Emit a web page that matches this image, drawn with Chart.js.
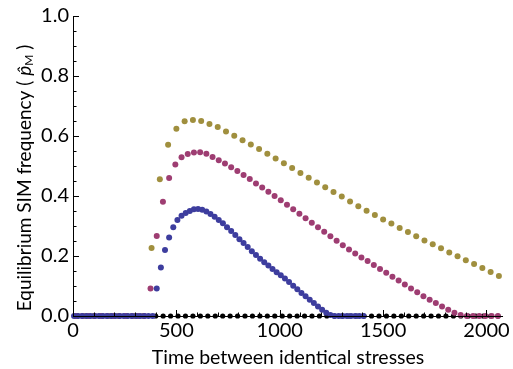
<!DOCTYPE html>
<html><head><meta charset="utf-8">
<script src="https://cdn.jsdelivr.net/npm/chart.js@4"></script>
<style>html,body{margin:0;padding:0;background:#fff}#wrap{width:513px;height:369px}</style>
</head><body><div id="wrap"><canvas id="c" width="513" height="369"></canvas></div>
<script>
// ---- data ----
const blueX = [5,25,45,65,85,105,125,145,165,185,205,225,245,265,285,305,325,345,365,385,
  405,425,445,465,485,505,525,545,565,585,605,625,645,665,685,705,725,745,765,785,805,825,845,865,885,905,925,945,965,985,
  1005,1025,1045,1065,1085,1105,1125,1145,1165,1185,1205,1225,1245,1265,1285,1305,1325,1345,1365,1385,1405];
const blueY = [0,0,0,0,0,0,0,0,0,0,0,0,0,0,0,0,0,0,0,0,
  0.092,0.162,0.220,0.262,0.296,0.320,0.334,0.343,0.350,0.356,0.357,0.354,0.348,0.340,0.331,0.320,0.309,0.296,0.283,0.270,0.256,0.243,0.230,0.216,0.203,0.191,0.179,0.168,0.157,0.146,
  0.136,0.125,0.113,0.101,0.089,0.077,0.066,0.054,0.043,0.032,0.021,0.011,0.003,0,0,0,0,0,0,0,0];

const magentaX = [15,45,75,105,135,165,195,225,255,285,315,345,
  375,405,435,465,495,525,555,585,615,645,675,705,735,765,795,825,855,885,915,945,975,
  1005,1035,1065,1095,1125,1155,1185,1215,1245,1275,1305,1335,1365,1395,1425,1455,1485,1515,1545,1575,1605,1635,1665,1695,1725,1755,1785,1815,1845,1875,1905,1935,1965,1995,2025,2055];
const magentaY = [0,0,0,0,0,0,0,0,0,0,0,0,
  0.092,0.267,0.381,0.460,0.505,0.529,0.540,0.545,0.546,0.541,0.530,0.519,0.508,0.496,0.483,0.470,0.457,0.442,0.428,0.414,0.400,
  0.386,0.371,0.356,0.341,0.326,0.311,0.296,0.281,0.266,0.251,0.236,0.222,0.208,0.195,0.183,0.170,0.157,0.144,0.131,0.118,0.105,0.092,0.079,0.066,0.054,0.043,0.032,0.021,0.011,0.003,0,0,0,0,0,0];

const yellowX = [20,60,100,140,180,220,260,300,340,
  380,420,460,500,540,580,620,660,700,740,780,820,860,900,940,980,
  1020,1060,1100,1140,1180,1220,1260,1300,1340,1380,1420,1460,1500,1540,1580,1620,1660,1700,1740,1780,1820,1860,1900,1940,1980,2020,2060];
const yellowY = [0,0,0,0,0,0,0,0,0,
  0.227,0.456,0.571,0.624,0.649,0.653,0.650,0.640,0.630,0.615,0.601,0.586,0.572,0.557,0.541,0.525,
  0.509,0.493,0.477,0.461,0.445,0.429,0.413,0.398,0.382,0.366,0.351,0.337,0.322,0.308,0.293,0.280,0.266,0.252,0.239,0.226,0.212,0.199,0.186,0.173,0.160,0.147,0.133];

const blackX = [400,436,472,508,544,580,616,652,688,724,760,796,832,868,904,940,976,1012,1048,1084,1120,1156,1192,1228,1264,1300,1336,1372,1408,1444,1480,1516,1552,1588,1624,1660,1696,1732,1768,1804,1840,1876,1912,1948,1984,2020,2056];
const blackY = [0,0,0,0,0,0,0,0,0,0,0,0,0,0,0,0,0,0,0,0,0,0,0,0,0,0,0,0,0,0,0,0,0,0,0,0,0,0,0,0,0,0,0,0,0,0,0];

const xTicks = [0,500,1000,1500,2000];
const xMinor = [100,200,300,400,600,700,800,900,1100,1200,1300,1400,1600,1700,1800,1900];
const yTicks = [0,0.2,0.4,0.6,0.8,1.0];
const yMinor = [0.05,0.1,0.15,0.25,0.3,0.35,0.45,0.5,0.55,0.65,0.7,0.75,0.85,0.9,0.95];
const xTitle = 'Time between identical stresses';
const yTitleMain = 'Equilibrium SIM frequency (';
const yTitleSym = 'p\u0302';
const yTitleSub = 'M';
const yTitleEnd = ')';

const FONT = 'Lato, "Open Sans", sans-serif';
const cBlue = 'rgb(61,61,158)', cMag = 'rgb(158,61,114)', cYel = 'rgb(160,143,62)';

function pts(xs, ys){ return xs.map((x,i)=>({x:x, y:ys[i]})); }

const axesPlugin = {
  id: 'axes',
  afterDatasetsDraw(chart){
    const ctx = chart.ctx, xs = chart.scales.x, ys = chart.scales.y;
    const L = xs.getPixelForValue(0), B = ys.getPixelForValue(0);
    const R = xs.right, T = ys.getPixelForValue(1);
    ctx.save();
    ctx.strokeStyle = '#000'; ctx.lineWidth = 1;
    ctx.beginPath();
    ctx.moveTo(Math.round(L)+0.5, T); ctx.lineTo(Math.round(L)+0.5, B+0.5);
    ctx.moveTo(L, Math.round(B)+0.5); ctx.lineTo(R, Math.round(B)+0.5);
    yTicks.forEach(v=>{ const p=Math.round(ys.getPixelForValue(v))+0.5; ctx.moveTo(L,p); ctx.lineTo(L+6,p); });
    yMinor.forEach(v=>{ const p=Math.round(ys.getPixelForValue(v))+0.5; ctx.moveTo(L,p); ctx.lineTo(L+3.5,p); });
    xTicks.forEach(v=>{ const p=Math.round(xs.getPixelForValue(v))+0.5; ctx.moveTo(p,B); ctx.lineTo(p,B-6); });
    xMinor.forEach(v=>{ const p=Math.round(xs.getPixelForValue(v))+0.5; ctx.moveTo(p,B); ctx.lineTo(p,B-3.5); });
    ctx.stroke();
    ctx.restore();
  },
  afterDraw(chart){
    const ctx = chart.ctx, ys = chart.scales.y;
    const cy = (ys.getPixelForValue(0)+ys.getPixelForValue(1))/2 + 12;
    ctx.save();
    ctx.translate(25, cy);
    ctx.rotate(-Math.PI/2);
    ctx.fillStyle = '#000';
    ctx.textBaseline = 'middle';
    const f1 = '19px ' + FONT, f2 = 'italic 19px ' + FONT, f3 = '12px ' + FONT;
    ctx.font = f1; const w1 = ctx.measureText(yTitleMain + ' ').width; const w4 = ctx.measureText(' ' + yTitleEnd).width;
    ctx.font = f2; const w2 = ctx.measureText(yTitleSym).width;
    ctx.font = f3; const w3 = ctx.measureText(yTitleSub).width;
    let x = -(w1+w2+w3+w4)/2;
    ctx.font = f1; ctx.textAlign='left'; ctx.fillText(yTitleMain + ' ', x, 0); x += w1;
    ctx.font = f2; ctx.fillText(yTitleSym, x, 0); x += w2;
    ctx.font = f3; ctx.fillText(yTitleSub, x, 4); x += w3;
    ctx.font = f1; ctx.fillText(' ' + yTitleEnd, x, 0);
    ctx.restore();
  }
};

new Chart(document.getElementById('c'), {
  type: 'scatter',
  data: { datasets: [
    { label:'blue', data: pts(blueX, blueY), backgroundColor: cBlue, pointRadius: 3, borderWidth: 0, order: 1, clip: false },
    { label:'magenta', data: pts(magentaX, magentaY), backgroundColor: cMag, pointRadius: 3, borderWidth: 0, order: 2, clip: false },
    { label:'yellow', data: pts(yellowX, yellowY), backgroundColor: cYel, pointRadius: 3, borderWidth: 0, order: 3, clip: false },
    { label:'black', data: pts(blackX, blackY), backgroundColor: '#000', pointRadius: 2.6, borderWidth: 0, order: 4, clip: false }
  ]},
  options: {
    responsive: false, animation: false, devicePixelRatio: 1,
    layout: { padding: { top: 16, right: 8, left: 0, bottom: 0 } },
    plugins: { legend: { display: false }, tooltip: { enabled: false } },
    elements: { point: { hoverRadius: 0 } },
    scales: {
      x: { type: 'linear', min: 0, max: 2080,
        afterBuildTicks: s => { s.ticks = xTicks.map(v=>({value:v})); },
        afterFit: s => { s.height = 53; },
        grid: { display: false, drawTicks: false }, border: { display: false },
        ticks: { color: '#000', font: { family: FONT, size: 20 }, padding: 3, maxRotation: 0, callback: v => String(v) },
        title: { display: true, text: xTitle, color: '#000', font: { family: FONT, size: 19.5 }, padding: { top: 0, bottom: 0 } }
      },
      y: { min: 0, max: 1,
        afterBuildTicks: s => { s.ticks = yTicks.map(v=>({value:v})); },
        afterFit: s => { s.width = 73; },
        grid: { display: false, drawTicks: false }, border: { display: false },
        ticks: { color: '#000', font: { family: FONT, size: 20 }, padding: 4, callback: v => Number(v).toFixed(1) }
      }
    }
  },
  plugins: [axesPlugin]
});
</script></body></html>
